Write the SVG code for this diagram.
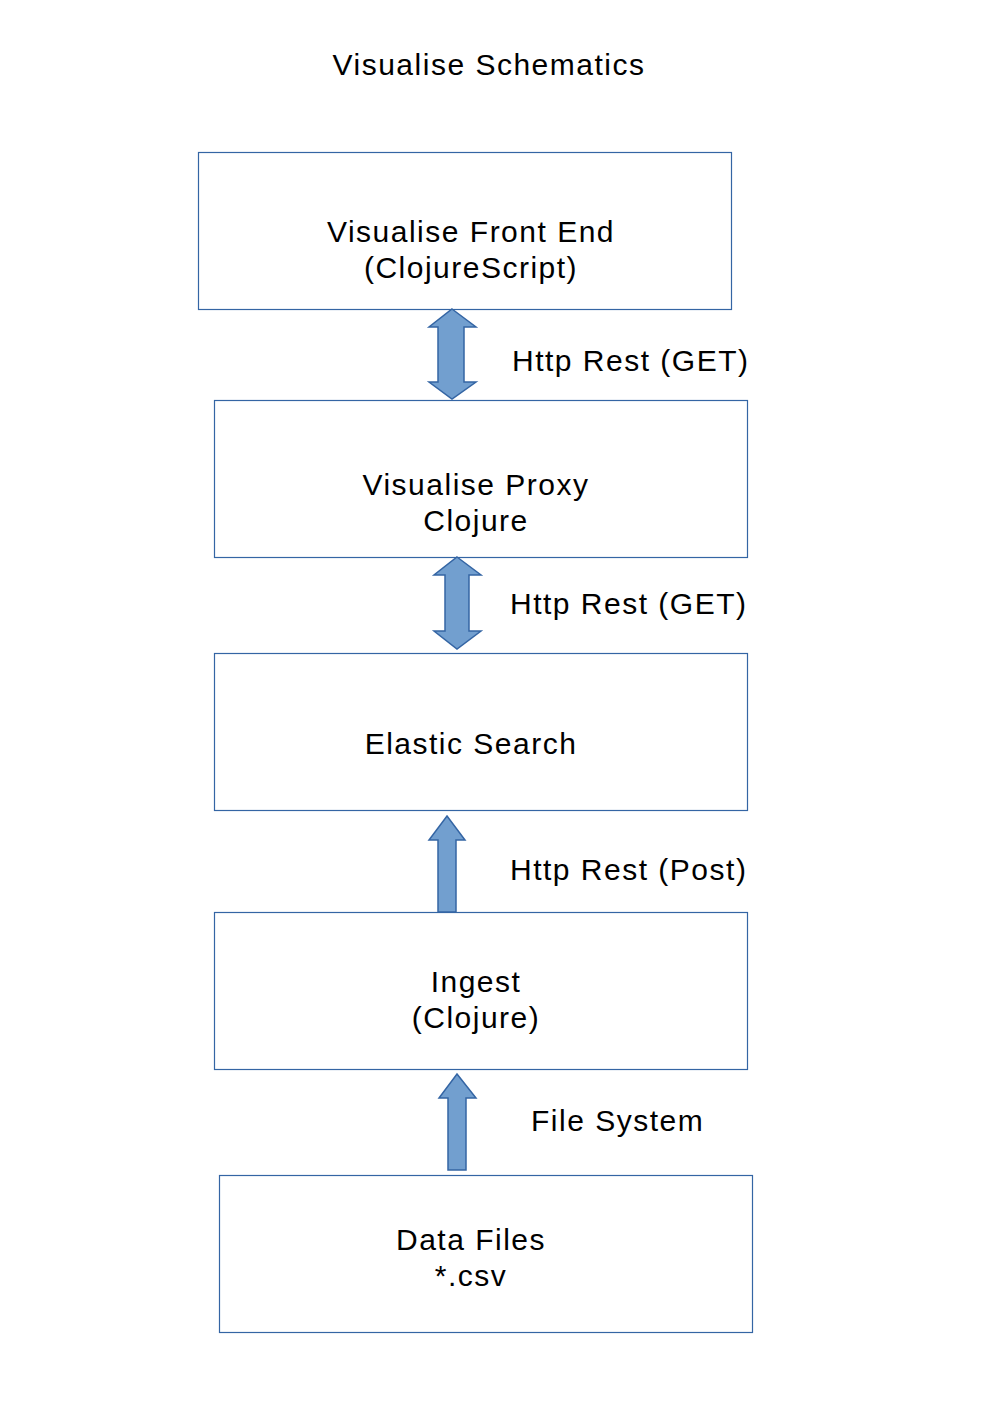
<svg xmlns="http://www.w3.org/2000/svg" width="992" height="1403" viewBox="0 0 992 1403">
<style>
.box{fill:#ffffff;stroke:#3465a4;stroke-width:1.2}
.arr{fill:#729fcf;stroke:#3465a4;stroke-width:1.5;stroke-linejoin:miter}
text{font-family:"Liberation Sans",Arial,sans-serif;font-size:30px;fill:#000;letter-spacing:1.5px}
.c{text-anchor:middle}
</style>
<rect width="992" height="1403" fill="#ffffff"/>
<text id="title" x="489" y="75" class="c">Visualise Schematics</text>
<g id="frontend">
<rect class="box" x="198.5" y="152.5" width="533" height="157"/>
<text x="471" y="242" class="c">Visualise Front End</text>
<text x="471" y="278" class="c">(ClojureScript)</text>
</g>
<g id="proxy">
<rect class="box" x="214.5" y="400.5" width="533" height="157"/>
<text x="476" y="495" class="c">Visualise Proxy</text>
<text x="476" y="531" class="c">Clojure</text>
</g>
<g id="elastic">
<rect class="box" x="214.5" y="653.5" width="533" height="157"/>
<text x="471" y="754" class="c">Elastic Search</text>
</g>
<g id="ingest">
<rect class="box" x="214.5" y="912.5" width="533" height="157"/>
<text x="476" y="992" class="c">Ingest</text>
<text x="476" y="1028" class="c">(Clojure)</text>
</g>
<g id="datafiles">
<rect class="box" x="219.5" y="1175.5" width="533" height="157"/>
<text x="471" y="1250" class="c">Data Files</text>
<text x="471" y="1286" class="c">*.csv</text>
</g>
<g id="connectors">
<polygon class="arr" points="452,309 476,327 464,327 464,382 476,382 452,399 429,382 438,382 438,327 429,327"/>
<polygon class="arr" points="457,557 481,575 469,575 469,631 481,631 457,649 434,631 445,631 445,575 434,575"/>
<polygon class="arr" points="447,816 465,840 456,840 456,912 438,912 438,840 429,840"/>
<polygon class="arr" points="457,1074 476,1098 466,1098 466,1170 448,1170 448,1098 439,1098"/>
<text x="512" y="371">Http Rest (GET)</text>
<text x="510" y="614">Http Rest (GET)</text>
<text x="510" y="880">Http Rest (Post)</text>
<text x="531" y="1131">File System</text>
</g>
</svg>
